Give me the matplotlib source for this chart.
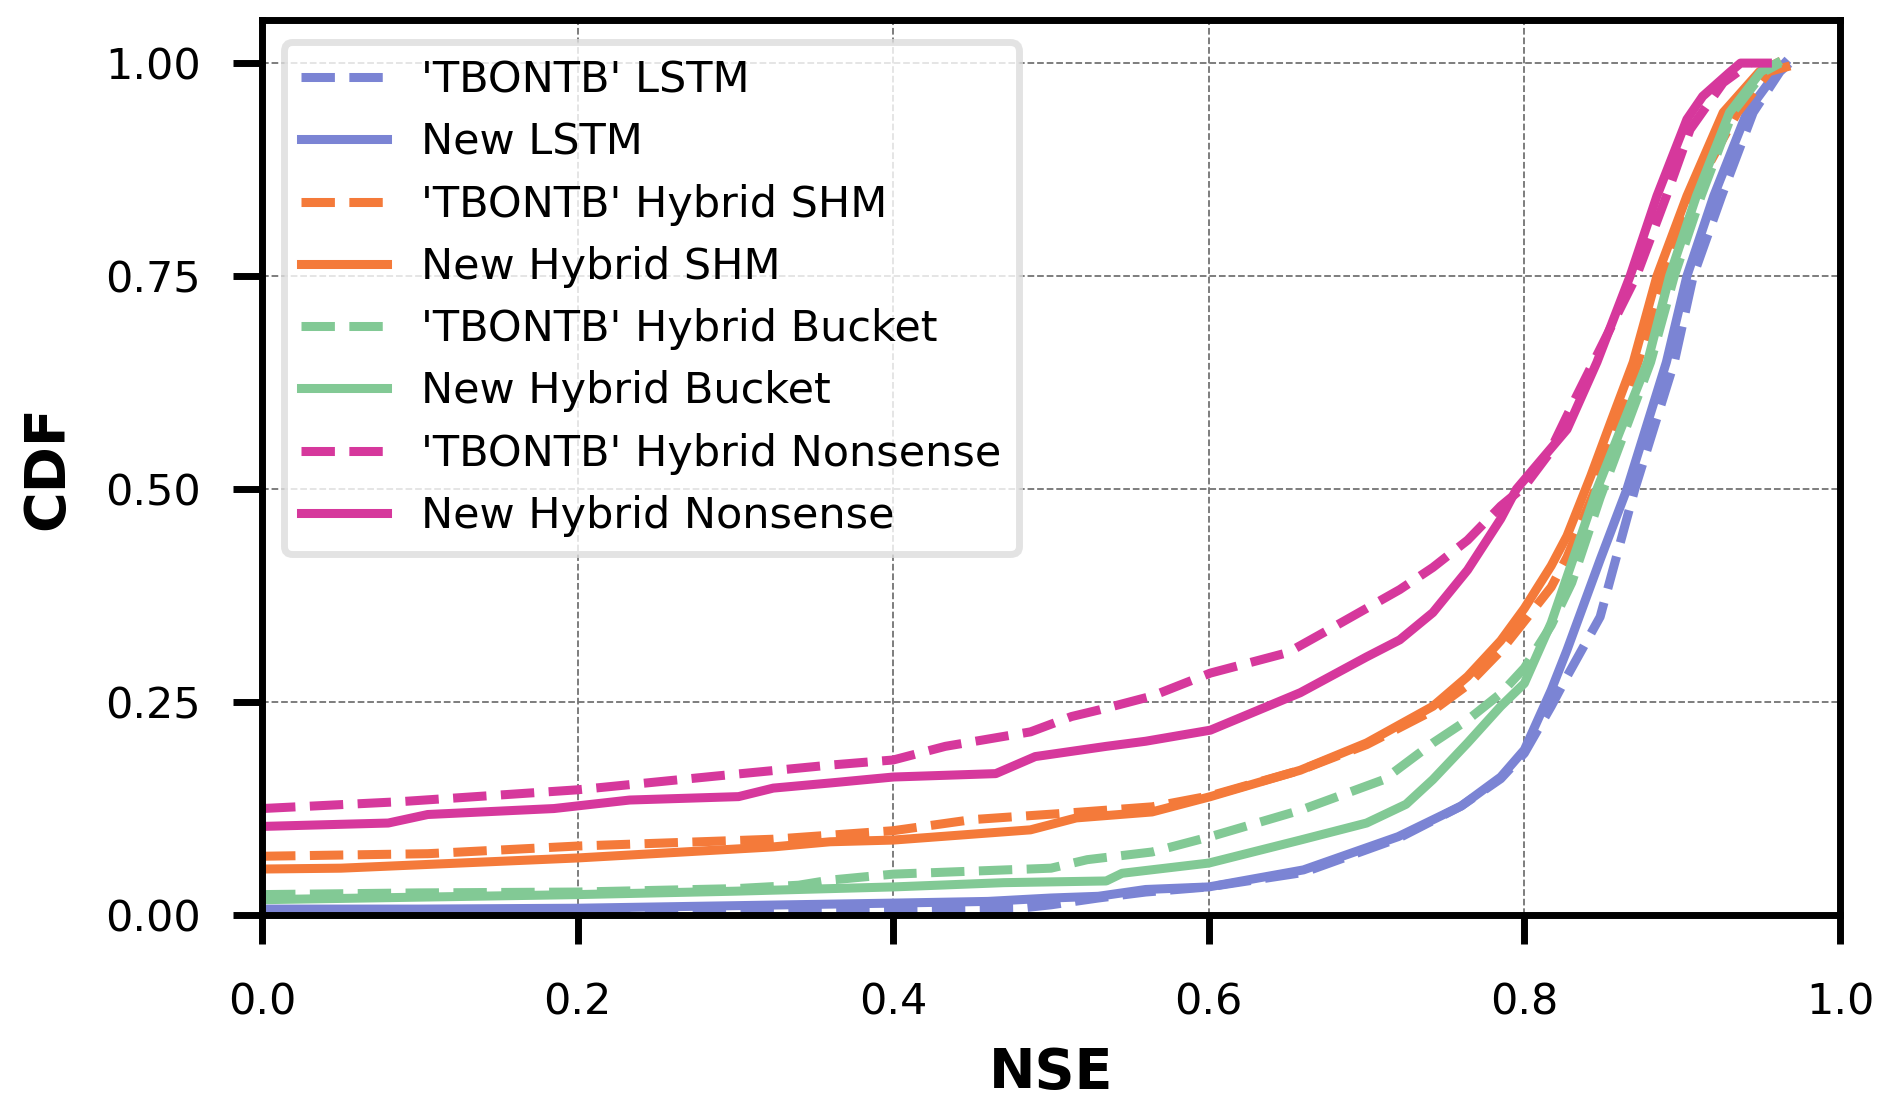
import matplotlib.pyplot as plt

# CDF curves (NSE on x, CDF on y)
lstm_old_x = [0, 0.2, 0.4, 0.48, 0.5, 0.53, 0.56, 0.6, 0.66, 0.72, 0.76, 0.785, 0.8,
              0.817, 0.827, 0.848, 0.87, 0.895, 0.907, 0.925, 0.945, 0.962, 0.968]
lstm_old_y = [0.003, 0.004, 0.006, 0.008, 0.012, 0.02, 0.027, 0.033, 0.05, 0.09, 0.128, 0.16, 0.19,
              0.245, 0.28, 0.35, 0.5, 0.649, 0.75, 0.844, 0.942, 0.99, 1.0]

lstm_new_x = [0, 0.1, 0.2, 0.3, 0.4, 0.46, 0.5, 0.53, 0.56, 0.6, 0.66, 0.72, 0.76, 0.785, 0.8,
              0.817, 0.827, 0.848, 0.865, 0.89, 0.903, 0.92, 0.941, 0.96, 0.965]
lstm_new_y = [0.007, 0.007, 0.008, 0.011, 0.014, 0.016, 0.02, 0.022, 0.03, 0.033, 0.053, 0.092, 0.128,
              0.162, 0.194, 0.264, 0.311, 0.417, 0.5, 0.649, 0.75, 0.844, 0.942, 0.99, 1.0]

shm_old_x = [0, 0.105, 0.2, 0.324, 0.4, 0.45, 0.505, 0.564, 0.601, 0.658, 0.7, 0.742, 0.764, 0.785,
             0.8, 0.817, 0.827, 0.845, 0.872, 0.888, 0.906, 0.935, 0.955, 0.975]
shm_old_y = [0.069, 0.072, 0.081, 0.089, 0.099, 0.112, 0.119, 0.127, 0.14, 0.17, 0.2, 0.24, 0.27, 0.31,
             0.345, 0.385, 0.42, 0.5, 0.649, 0.75, 0.844, 0.942, 0.99, 1.0]

shm_new_x = [0, 0.05, 0.2, 0.324, 0.36, 0.4, 0.487, 0.516, 0.564, 0.601, 0.658, 0.7, 0.742, 0.764,
             0.785, 0.8, 0.817, 0.827, 0.842, 0.855, 0.869, 0.884, 0.903, 0.926, 0.949, 0.96]
shm_new_y = [0.054, 0.055, 0.067, 0.08, 0.086, 0.088, 0.10, 0.114, 0.121, 0.139, 0.170, 0.202, 0.245,
             0.28, 0.322, 0.36, 0.41, 0.445, 0.515, 0.58, 0.649, 0.75, 0.844, 0.942, 0.99, 1.0]

bucket_old_x = [0, 0.1, 0.2, 0.3, 0.34, 0.36, 0.4, 0.5, 0.523, 0.564, 0.601, 0.658, 0.711, 0.742,
                0.764, 0.785, 0.8, 0.817, 0.83, 0.848, 0.88, 0.895, 0.912, 0.932, 0.952, 0.962]
bucket_old_y = [0.024, 0.026, 0.027, 0.031, 0.035, 0.041, 0.048, 0.055, 0.065, 0.074, 0.092, 0.123,
                0.159, 0.202, 0.229, 0.26, 0.29, 0.34, 0.39, 0.49, 0.649, 0.75, 0.844, 0.942, 0.99, 1.0]

bucket_new_x = [0, 0.1, 0.2, 0.3, 0.4, 0.47, 0.535, 0.545, 0.6, 0.658, 0.7, 0.725, 0.742, 0.764,
                0.785, 0.8, 0.817, 0.827, 0.846, 0.878, 0.892, 0.909, 0.93, 0.95, 0.96]
bucket_new_y = [0.018, 0.021, 0.024, 0.028, 0.033, 0.038, 0.040, 0.049, 0.061, 0.088, 0.108, 0.13,
                0.159, 0.202, 0.245, 0.272, 0.343, 0.397, 0.5, 0.649, 0.75, 0.844, 0.942, 0.99, 1.0]

nonsense_old_x = [0, 0.087, 0.2, 0.287, 0.36, 0.4, 0.433, 0.487, 0.513, 0.531, 0.564, 0.601, 0.65,
                  0.679, 0.721, 0.742, 0.764, 0.785, 0.8, 0.815, 0.833, 0.871, 0.89, 0.905, 0.926, 0.943]
nonsense_old_y = [0.125, 0.133, 0.147, 0.163, 0.176, 0.182, 0.198, 0.215, 0.233, 0.241, 0.257, 0.284,
                  0.308, 0.338, 0.382, 0.408, 0.44, 0.48, 0.503, 0.54, 0.609, 0.75, 0.844, 0.922, 0.977, 1.0]

nonsense_new_x = [0, 0.08, 0.105, 0.185, 0.233, 0.302, 0.324, 0.36, 0.4, 0.465, 0.49, 0.535, 0.56,
                  0.601, 0.658, 0.7, 0.721, 0.742, 0.764, 0.785, 0.795, 0.827, 0.846, 0.867, 0.884,
                  0.903, 0.913, 0.930, 0.937, 0.954]
nonsense_new_y = [0.104, 0.108, 0.118, 0.125, 0.135, 0.139, 0.149, 0.155, 0.162, 0.166, 0.186, 0.198,
                  0.204, 0.217, 0.261, 0.303, 0.323, 0.355, 0.405, 0.465, 0.5, 0.570, 0.649, 0.75, 0.844,
                  0.934, 0.961, 0.989, 1.0, 1.0]

blue = '#7b84d4'
orange = '#f47a3a'
green = '#82c995'
magenta = '#d6389c'

series = [
    (lstm_old_x, lstm_old_y, blue, '--', "'TBONTB' LSTM"),
    (lstm_new_x, lstm_new_y, blue, '-', 'New LSTM'),
    (shm_old_x, shm_old_y, orange, '--', "'TBONTB' Hybrid SHM"),
    (shm_new_x, shm_new_y, orange, '-', 'New Hybrid SHM'),
    (bucket_old_x, bucket_old_y, green, '--', "'TBONTB' Hybrid Bucket"),
    (bucket_new_x, bucket_new_y, green, '-', 'New Hybrid Bucket'),
    (nonsense_old_x, nonsense_old_y, magenta, '--', "'TBONTB' Hybrid Nonsense"),
    (nonsense_new_x, nonsense_new_y, magenta, '-', 'New Hybrid Nonsense'),
]

fig = plt.figure(figsize=(18.92, 11.14), dpi=100)
ax = fig.add_axes([0.1385, 0.1786, 0.834, 0.803])

for x, y, c, ls, lab in series:
    ax.plot(x, y, color=c, ls=ls, lw=6.5, label=lab)

ax.set_xlim(0, 1)
ax.set_ylim(0, 1.05)
ax.set_xticks([0.0, 0.2, 0.4, 0.6, 0.8, 1.0])
ax.set_yticks([0.0, 0.25, 0.5, 0.75, 1.0])
ax.set_yticklabels(['0.00', '0.25', '0.50', '0.75', '1.00'])
ax.grid(True, color='0.45', ls='--', lw=1.3)

for s in ax.spines.values():
    s.set_linewidth(5)
ax.tick_params(labelsize=31, length=21, width=5)
ax.tick_params(axis='x', pad=27)
ax.tick_params(axis='y', pad=23)

ax.set_xlabel('NSE', fontsize=40, fontweight='bold', labelpad=16)
ax.set_ylabel('CDF', fontsize=40, fontweight='bold', labelpad=22)

leg = ax.legend(loc='upper left', fontsize=31, labelspacing=0.47, handlelength=2.0,
                handletextpad=0.8, fancybox=True, framealpha=0.8)
leg.get_frame().set_edgecolor('#dddddd')
leg.get_frame().set_linewidth(5)

plt.savefig('out.png', dpi=100)
